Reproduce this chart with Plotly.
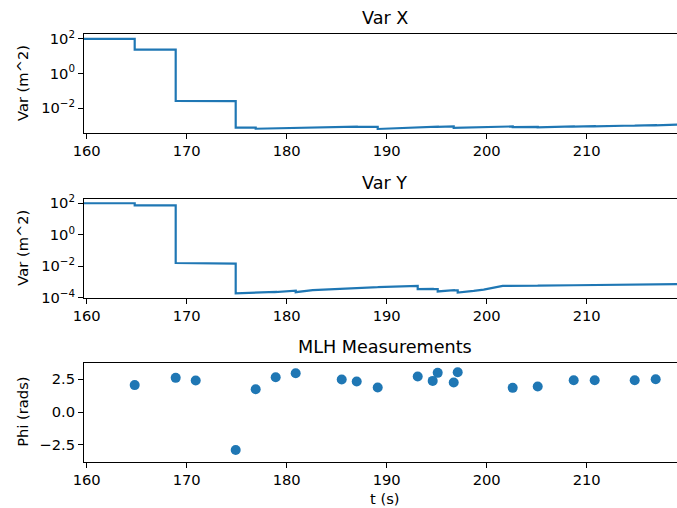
import plotly.graph_objects as go

# ---- data ----
t_varx = [159.7, 164.8, 164.8, 168.9, 168.9, 170.9, 170.9, 174.9, 174.9, 176.9, 176.9,
          185.5, 185.5, 187.0, 187.0, 189.1, 189.1, 193.1, 193.1, 194.6, 194.6, 195.1, 195.1,
          196.7, 196.7, 197.1, 197.1, 202.6, 202.6, 205.1, 205.1, 208.7, 208.7, 210.8, 210.8,
          214.8, 214.8, 216.9, 216.9, 219.1]
var_x = [100, 100, 24, 24, 0.026, 0.026, 0.025, 0.025, 7.4e-4, 7.4e-4, 6.3e-4,
         8.5e-4, 8.3e-4, 8.3e-4, 8.0e-4, 8.1e-4, 6.1e-4, 7.9e-4, 7.7e-4, 8.3e-4, 8.1e-4, 8.2e-4, 8.0e-4,
         8.6e-4, 7.0e-4, 7.1e-4, 6.9e-4, 8.6e-4, 7.9e-4, 8.1e-4, 7.5e-4, 8.5e-4, 8.3e-4, 8.8e-4, 8.6e-4,
         9.7e-4, 9.5e-4, 1.03e-3, 1.0e-3, 1.1e-3]

t_vary = [159.7, 164.8, 164.8, 168.9, 168.9, 170.9, 170.9, 174.9, 174.9, 176.9, 176.9,
          178.9, 178.9, 180.9, 180.9, 182.6, 185.5, 185.5, 187.0, 187.0, 189.1, 189.1,
          193.1, 193.1, 194.6, 194.6, 195.1, 195.1, 196.7, 196.7, 197.1, 197.1,
          198.7, 199.7, 201.6, 202.6, 202.6, 205.1, 205.1, 208.7, 208.7, 210.8, 210.8,
          214.8, 214.8, 216.9, 216.9, 219.1]
var_y = [100, 100, 74, 74, 0.016, 0.0155, 0.0145, 0.0145, 1.9e-4, 2.1e-4, 2.05e-4,
         2.35e-4, 2.3e-4, 2.8e-4, 2.25e-4, 3.0e-4, 3.8e-4, 3.75e-4, 4.2e-4, 4.15e-4, 4.7e-4, 4.65e-4,
         5.6e-4, 3.5e-4, 3.6e-4, 3.5e-4, 3.5e-4, 2.5e-4, 3.0e-4, 2.9e-4, 2.9e-4, 2.15e-4,
         2.7e-4, 3.3e-4, 5.6e-4, 5.8e-4, 5.6e-4, 5.9e-4, 5.8e-4, 6.2e-4, 6.1e-4, 6.4e-4, 6.3e-4,
         6.8e-4, 6.7e-4, 7.0e-4, 6.6e-4, 7.2e-4]

t_mlh = [164.8, 168.9, 170.9, 174.9, 176.9, 178.9, 180.9, 185.5, 187.0, 189.1, 193.1,
         194.6, 195.1, 196.7, 197.1, 202.6, 205.1, 208.7, 210.8, 214.8, 216.9]
phi_mlh = [2.05, 2.6, 2.4, -2.88, 1.74, 2.65, 2.95, 2.48, 2.32, 1.87, 2.7,
           2.37, 2.98, 2.25, 3.03, 1.84, 1.95, 2.42, 2.42, 2.42, 2.5]

x_ticks = [160, 170, 180, 190, 200, 210]
log_tickvals = [100, 1, 0.01, 0.0001]
log_ticktext = ["10<sup>2</sup>", "10<sup>0</sup>", "10<sup>−2</sup>", "10<sup>−4</sup>"]
phi_tickvals = [2.5, 0.0, -2.5]
phi_ticktext = ["2.5", "0.0", "−2.5"]

titles = ["Var X", "Var Y", "MLH Measurements"]

# ---- layout ----
W, H = 677, 508
L, R = 84, 0
BLUE = "#1f77b4"
FONT = "DejaVu Sans"
TICK = 14.7

def py(p):
    return 1 - p / H

doms = [(py(132.7), py(34.3)), (py(297.7), py(198.7)), (py(461.7), py(363.0))]

fig = go.Figure()
fig.add_trace(go.Scatter(x=t_varx, y=var_x, mode="lines", line=dict(color=BLUE, width=2.2),
                         xaxis="x", yaxis="y", showlegend=False))
fig.add_trace(go.Scatter(x=t_vary, y=var_y, mode="lines", line=dict(color=BLUE, width=2.2),
                         xaxis="x2", yaxis="y2", showlegend=False))
fig.add_trace(go.Scatter(x=t_mlh, y=phi_mlh, mode="markers",
                         marker=dict(color=BLUE, size=10, line=dict(width=0)),
                         xaxis="x3", yaxis="y3", showlegend=False))

axcommon = dict(showline=True, linecolor="black", linewidth=1.1, ticks="outside",
                ticklen=5, tickwidth=1.1, tickcolor="black", showgrid=False, zeroline=False,
                automargin=False,
                tickfont=dict(family=FONT, size=TICK, color="black"))

layout = dict(width=W, height=H, margin=dict(l=L, r=R, t=0, b=0, autoexpand=False),
              plot_bgcolor="white", paper_bgcolor="white",
              font=dict(family=FONT, color="black"))
for i, (d0, d1) in enumerate(doms):
    sx = "" if i == 0 else str(i + 1)
    layout["xaxis" + sx] = dict(axcommon, domain=[0, 1], anchor="y" + sx, range=[159.73, 219.03],
                                tickvals=x_ticks, mirror=True)
    if i < 2:
        yr = [-3.43, 2.27] if i == 0 else [-4.0, 2.29]
        layout["yaxis" + sx] = dict(axcommon, domain=[d0, d1], anchor="x" + sx, type="log",
                                    range=yr, tickvals=log_tickvals, ticktext=log_ticktext)
    else:
        layout["yaxis" + sx] = dict(axcommon, domain=[d0, d1], anchor="x" + sx,
                                    range=[-3.77, 3.73], tickvals=phi_tickvals, ticktext=phi_ticktext)

fig.update_layout(**layout)

cx = (384.5 - L) / (W - L - R)
for i, (d0, d1) in enumerate(doms):
    fig.add_annotation(text=titles[i], xref="paper", yref="paper", x=cx, y=d1,
                       xanchor="center", yanchor="bottom", yshift=4, showarrow=False,
                       font=dict(family=FONT, size=17.6, color="black"))
    fig.add_annotation(text="Phi (rads)" if i == 2 else "Var (m^2)", xref="paper", yref="paper",
                       x=(22.5 - L) / (W - L - R), y=(d0 + d1) / 2, textangle=-90,
                       xanchor="center", yanchor="middle", showarrow=False,
                       font=dict(family=FONT, size=TICK, color="black"))
fig.add_annotation(text="t (s)", xref="paper", yref="paper", x=cx, y=py(498),
                   xanchor="center", yanchor="middle", showarrow=False,
                   font=dict(family=FONT, size=TICK, color="black"))

fig.write_html("out.html", config={"displayModeBar": False},
               post_script="document.body.style.margin='0';document.body.style.overflow='hidden';")
